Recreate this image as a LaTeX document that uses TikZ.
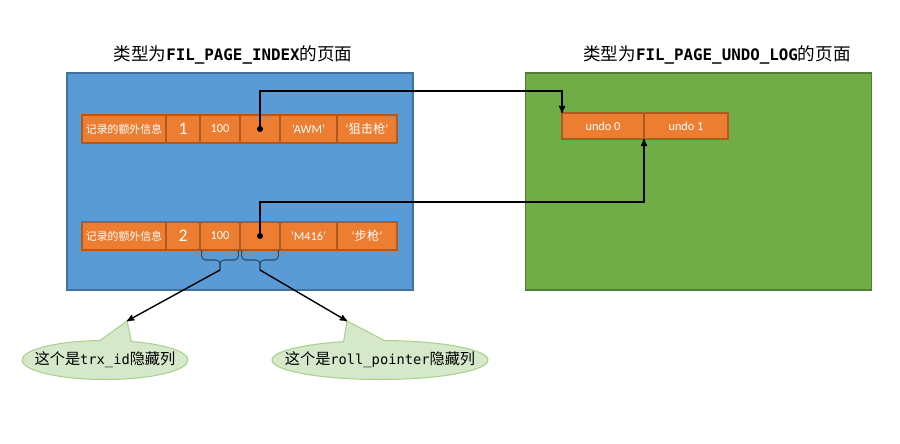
\documentclass[tikz,border=0pt]{standalone}
\usepackage{fontspec}
\setmainfont{Carlito}
\setmonofont{DejaVu Sans Mono}[Scale=0.9]
\newfontfamily\cjk{Noto Sans CJK SC}
\usetikzlibrary{arrows}
\usetikzlibrary{positioning}
\usetikzlibrary{shapes.callouts}

\definecolor{pageblue}{HTML}{5B9BD5}
\definecolor{pagebluedark}{HTML}{41719C}
\definecolor{pagegreen}{HTML}{70AD47}
\definecolor{pagegreendark}{HTML}{507E32}
\definecolor{cellorange}{HTML}{ED7D31}
\definecolor{celldark}{HTML}{AE5A21}
\definecolor{notefill}{HTML}{D6E8CA}
\definecolor{noteline}{HTML}{A9D08E}
\definecolor{bracecol}{HTML}{2E4A6B}

\begin{document}
\begin{tikzpicture}[x=0.03cm, y=-0.03cm,
  page/.style={line width=1.2pt, minimum width=103.8mm, minimum height=65.1mm, inner sep=0},
  title/.style={font=\fontsize{15}{18}\selectfont},
  cell/.style={draw=celldark, fill=cellorange, text=white, line width=0.9pt, outer sep=0, inner sep=0,
    minimum height=8.4mm, font=\fontsize{10.5}{12}\selectfont},
  dot/.style={circle, fill=black, inner sep=0, minimum size=1.8mm},
  ptr/.style={black, line width=1.2pt, ->, >=stealth'},
  brc/.style={bracecol, line width=0.9pt, rounded corners=1.2mm},
  note/.style={ellipse callout, draw=noteline, fill=notefill, line width=0.9pt, inner sep=0,
    minimum height=11.7mm, callout pointer arc=22, font=\fontsize{13}{15}\selectfont}]
\useasboundingbox (0,0) rectangle (900,443);

\node[page, fill=pageblue, draw=pagebluedark] (idx) at (240,181.5) {};
\node[page, fill=pagegreen, draw=pagegreendark] (undo) at (698.5,181.5) {};
\node[title] at (233,55) {{\cjk 类型为}{\ttfamily\bfseries FIL\_PAGE\_INDEX}{\cjk 的页面}};
\node[title] at (717,55) {{\cjk 类型为}{\ttfamily\bfseries FIL\_PAGE\_UNDO\_LOG}{\cjk 的页面}};

\foreach \r/\y/\a/\b in {1/129/‘AWM’/‘{\cjk 狙击枪}’, 2/236/‘M416’/‘{\cjk 步枪}’} {
 \node[cell, minimum width=25.2mm, anchor=west, font=\cjk\fontsize{9.3}{11}\selectfont] (rec\r-1) at (82,\y) {记录的额外信息};
 \node[cell, minimum width=10.2mm, right=0pt of rec\r-1, font=\fontsize{15}{17}\selectfont] (rec\r-2) {\r};
 \node[cell, minimum width=12mm, right=0pt of rec\r-2] (rec\r-3) {100};
 \node[cell, minimum width=12mm, right=0pt of rec\r-3] (rec\r-4) {};
 \node[cell, minimum width=17.1mm, right=0pt of rec\r-4] (rec\r-5) {\a};
 \node[cell, minimum width=18mm, right=0pt of rec\r-5] (rec\r-6) {\b};
 \node[dot] (ptr\r) at (rec\r-4.center) {};
}

\node[cell, minimum width=24.6mm, minimum height=7.8mm, anchor=west] (u0) at (562,126) {undo 0};
\node[cell, minimum width=25.2mm, minimum height=7.8mm, right=0pt of u0] (u1) {undo 1};

\draw[ptr] (ptr1.center) |- ([yshift=6.6mm]u0.north west) -- (u0.north west);
\draw[ptr] (ptr2.center) |- ([yshift=-18.9mm]u0.south east) -- (u0.south east);

\coordinate (trx) at ([yshift=-6mm]rec2-3.south);
\coordinate (roll) at ([yshift=-6mm]rec2-4.south);
\draw[brc] ([xshift=0.5mm]rec2-3.south west) -- ++(0,-3mm) -| (trx);
\draw[brc] ([xshift=-0.5mm]rec2-3.south east) -- ++(0,-3mm) -| (trx);
\draw[brc] ([xshift=0.5mm]rec2-4.south west) -- ++(0,-3mm) -| (roll);
\draw[brc] ([xshift=-0.5mm]rec2-4.south east) -- ++(0,-3mm) -| (roll);

\coordinate (tip1) at (127,321);
\coordinate (tip2) at (347,321);
\node[note, minimum width=49.8mm, callout absolute pointer={(tip1)}] (trxnote) at (105,360)
  {\makebox[0pt]{{\cjk 这个是}{\ttfamily trx\_id}{\cjk 隐藏列}}};
\node[note, minimum width=64.8mm, callout absolute pointer={(tip2)}] (rollnote) at (380,360)
  {\makebox[0pt]{{\cjk 这个是}{\ttfamily roll\_pointer}{\cjk 隐藏列}}};

\draw[ptr] (trx) -- (tip1);
\draw[ptr] (roll) -- (tip2);
\end{tikzpicture}
\end{document}
